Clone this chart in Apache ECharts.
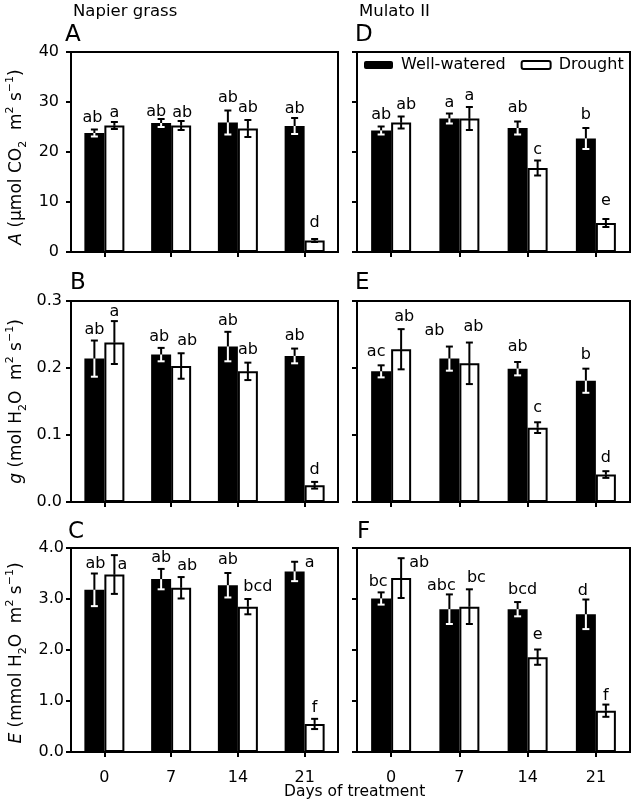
<!DOCTYPE html>
<html>
<head>
<meta charset="utf-8">
<script src="https://cdn.jsdelivr.net/npm/echarts@6/dist/echarts.min.js"></script>
<style>
html,body{margin:0;padding:0;background:#fff;}
#chart{width:633px;height:812px;}
</style>
</head>
<body>
<div id="chart"></div>
<script>
// ---------- DATA ----------
const days = ['0', '7', '14', '21'];
const treatments = ['Well-watered', 'Drought'];
const yLabelsA = ['0', '10', '20', '30', '40'];
const yLabelsG = ['0.0', '0.1', '0.2', '0.3'];
const yLabelsE = ['0.0', '1.0', '2.0', '3.0', '4.0'];

// Napier grass - A (µmol CO2 m-2 s-1)
const napierA_ww = [23.8, 25.8, 25.9, 25.2];
const napierA_wwErr = [0.7, 0.8, 2.4, 1.6];
const napierA_wwLet = ['ab', 'ab', 'ab', 'ab'];
const napierA_dr = [25.3, 25.3, 24.7, 2.3];
const napierA_drErr = [0.7, 0.9, 1.7, 0.3];
const napierA_drLet = ['a', 'ab', 'ab', 'd'];

// Napier grass - g (mol H2O m-2 s-1)
const napierG_ww = [0.214, 0.220, 0.232, 0.218];
const napierG_wwErr = [0.027, 0.010, 0.022, 0.011];
const napierG_wwLet = ['ab', 'ab', 'ab', 'ab'];
const napierG_dr = [0.238, 0.203, 0.195, 0.025];
const napierG_drErr = [0.032, 0.019, 0.013, 0.005];
const napierG_drLet = ['a', 'ab', 'ab', 'd'];

// Napier grass - E (mmol H2O m-2 s-1)
const napierE_ww = [3.18, 3.39, 3.27, 3.54];
const napierE_wwErr = [0.32, 0.20, 0.24, 0.19];
const napierE_wwLet = ['ab', 'ab', 'ab', 'a'];
const napierE_dr = [3.48, 3.22, 2.85, 0.55];
const napierE_drErr = [0.38, 0.21, 0.15, 0.10];
const napierE_drLet = ['a', 'ab', 'bcd', 'f'];

// Mulato II - A
const mulatoA_ww = [24.3, 26.7, 24.8, 22.7];
const mulatoA_wwErr = [0.8, 1.0, 1.3, 2.1];
const mulatoA_wwLet = ['ab', 'a', 'ab', 'b'];
const mulatoA_dr = [25.9, 26.7, 16.8, 5.8];
const mulatoA_drErr = [1.2, 2.3, 1.5, 0.8];
const mulatoA_drLet = ['ab', 'a', 'c', 'e'];

// Mulato II - g
const mulatoG_ww = [0.195, 0.214, 0.199, 0.181];
const mulatoG_wwErr = [0.009, 0.018, 0.010, 0.018];
const mulatoG_wwLet = ['ac', 'ab', 'ab', 'b'];
const mulatoG_dr = [0.228, 0.207, 0.111, 0.041];
const mulatoG_drErr = [0.030, 0.031, 0.008, 0.005];
const mulatoG_drLet = ['ab', 'ab', 'c', 'd'];

// Mulato II - E
const mulatoE_ww = [3.01, 2.80, 2.80, 2.70];
const mulatoE_wwErr = [0.12, 0.29, 0.14, 0.29];
const mulatoE_wwLet = ['bc', 'abc', 'bcd', 'd'];
const mulatoE_dr = [3.41, 2.85, 1.86, 0.81];
const mulatoE_drErr = [0.39, 0.34, 0.15, 0.12];
const mulatoE_drLet = ['ab', 'bc', 'e', 'f'];

// ---------- STYLE / LAYOUT (not data) ----------
const FONT = 'DejaVu Sans';
const BAR_W = 20;
const CAP = 3.5;
// label nudges [dx, dy] in px, per panel & treatment
const nudge = {
  A_ww: [[-2, 0], [-5, 5], [0, -1], [0, 3]],
  A_dr: [[0, 3], [1, 4], [0, 0], [0, -4]],
  B_ww: [[0, 1], [-2, 1], [0, 1], [0, -1]],
  B_dr: [[0, 3], [6, 0], [0, -1], [0, 0]],
  C_ww: [[1, 2], [0, 1], [0, -1], [15, 13]],
  C_dr: [[8, 22], [6, 1], [10, 0], [0, 1]],
  D_ww: [[0, 0], [0, 1], [0, -2], [0, -1]],
  D_dr: [[5, 0], [0, 1], [0, 1], [0, -6]],
  E_ww: [[-5, -1], [-15, -4], [0, -3], [0, -2]],
  E_dr: [[3, 0], [4, -4], [0, -2], [0, -1]],
  F_ww: [[-3, 1], [-8, 3], [5, 0], [-3, 3]],
  F_dr: [[18, 17], [7, 1], [0, -3], [0, 3]]
};

const gridsPos = [
  { left: 71, top: 52, width: 267, height: 200 },   // A
  { left: 71, top: 301, width: 267, height: 201 },  // B
  { left: 71, top: 548, width: 267, height: 204 },  // C
  { left: 357, top: 52, width: 273, height: 200 },  // D
  { left: 357, top: 301, width: 273, height: 201 }, // E
  { left: 357, top: 548, width: 273, height: 204 }  // F
];

const panels = [
  { key: 'A', ww: napierA_ww, wwErr: napierA_wwErr, wwLet: napierA_wwLet, dr: napierA_dr, drErr: napierA_drErr, drLet: napierA_drLet, max: 40, interval: 10, labels: yLabelsA, showY: true, showX: false, labelMargin: 12, namePad: [0, 10, 0, 0], name: '{i|A} {n|(µmol CO}{sub|2}{n|  m}{sup|2}{n| s}{sup|−1}{n|)}' },
  { key: 'B', ww: napierG_ww, wwErr: napierG_wwErr, wwLet: napierG_wwLet, dr: napierG_dr, drErr: napierG_drErr, drLet: napierG_drLet, max: 0.3, interval: 0.1, labels: yLabelsG, showY: true, showX: false, labelMargin: 9, namePad: [0, 0, 0, 0], name: '{i|g} {n|(mol H}{sub|2}{n|O  m}{sup|2}{n| s}{sup|−1}{n|)}' },
  { key: 'C', ww: napierE_ww, wwErr: napierE_wwErr, wwLet: napierE_wwLet, dr: napierE_dr, drErr: napierE_drErr, drLet: napierE_drLet, max: 4, interval: 1, labels: yLabelsE, showY: true, showX: true, labelMargin: 7, namePad: [0, 6, 0, 0], name: '{i|E} {n|(mmol H}{sub|2}{n|O  m}{sup|2}{n| s}{sup|−1}{n|)}' },
  { key: 'D', ww: mulatoA_ww, wwErr: mulatoA_wwErr, wwLet: mulatoA_wwLet, dr: mulatoA_dr, drErr: mulatoA_drErr, drLet: mulatoA_drLet, max: 40, interval: 10, labels: yLabelsA, showY: false, showX: false },
  { key: 'E', ww: mulatoG_ww, wwErr: mulatoG_wwErr, wwLet: mulatoG_wwLet, dr: mulatoG_dr, drErr: mulatoG_drErr, drLet: mulatoG_drLet, max: 0.3, interval: 0.1, labels: yLabelsG, showY: false, showX: false },
  { key: 'F', ww: mulatoE_ww, wwErr: mulatoE_wwErr, wwLet: mulatoE_wwLet, dr: mulatoE_dr, drErr: mulatoE_drErr, drLet: mulatoE_drLet, max: 4, interval: 1, labels: yLabelsE, showY: false, showX: true }
];

function errSeries(g, vals, errs, lets, nd, side) {
  return {
    type: 'custom', xAxisIndex: g, yAxisIndex: g, z: 5, silent: true,
    data: vals.map((v, i) => [i, v, errs[i]]),
    renderItem: function (params, api) {
      const i = api.value(0), v = api.value(1), e = api.value(2);
      const c = api.coord([i, v]);
      const x = c[0] + side * BAR_W / 2;
      const yv = c[1];
      const yTop = api.coord([i, v + e])[1];
      const yBot = api.coord([i, v - e])[1];
      const low = side < 0 ? '#fff' : '#000';
      const n = nd[params.dataIndex];
      return {
        type: 'group',
        children: [
          { type: 'line', shape: { x1: x, y1: yv, x2: x, y2: yTop }, style: { stroke: '#000', lineWidth: 2 } },
          { type: 'line', shape: { x1: x - CAP, y1: yTop, x2: x + CAP, y2: yTop }, style: { stroke: '#000', lineWidth: 2 } },
          { type: 'line', shape: { x1: x, y1: yv, x2: x, y2: yBot }, style: { stroke: low, lineWidth: 2 } },
          { type: 'line', shape: { x1: x - CAP, y1: yBot, x2: x + CAP, y2: yBot }, style: { stroke: low, lineWidth: 2 } },
          { type: 'text', style: { text: lets[params.dataIndex], x: x + n[0], y: yTop - 4 + n[1], fill: '#000', fontSize: 16, fontFamily: FONT, align: 'center', verticalAlign: 'bottom', textAlign: 'center', textVerticalAlign: 'bottom' } }
        ]
      };
    }
  };
}

const grid = [], xAxis = [], yAxis = [], series = [];
panels.forEach((p, g) => {
  grid.push(Object.assign({ show: true, borderColor: '#000', borderWidth: 2, backgroundColor: 'transparent', containLabel: false }, gridsPos[g]));
  xAxis.push({
    type: 'category', gridIndex: g, data: days,
    axisLine: { lineStyle: { color: '#000', width: 2 } },
    axisTick: { show: true, alignWithLabel: true, length: 5, lineStyle: { color: '#000', width: 2 } },
    axisLabel: { show: p.showX, color: '#000', fontSize: 16, fontFamily: FONT, margin: 18 }
  });
  const yax = {
    type: 'value', gridIndex: g, min: 0, max: p.max, interval: p.interval,
    splitLine: { show: false },
    axisLine: { show: true, lineStyle: { color: '#000', width: 2 } },
    axisTick: { show: true, length: 5, lineStyle: { color: '#000', width: 2 } },
    axisLabel: {
      show: p.showY, color: '#000', fontSize: 16, fontFamily: FONT, margin: p.labelMargin || 10,
      formatter: (val) => p.labels[Math.round(val / p.interval)]
    }
  };
  if (p.name) {
    Object.assign(yax, {
      name: p.name, nameLocation: 'middle', nameGap: 42,
      nameTextStyle: {
        color: '#000', fontFamily: FONT, fontSize: 17, padding: p.namePad,
        rich: {
          i: { fontStyle: 'italic', fontSize: 17, fontFamily: FONT, color: '#000', lineHeight: 24 },
          n: { fontSize: 17, fontFamily: FONT, color: '#000', lineHeight: 24 },
          sub: { fontSize: 11, fontFamily: FONT, color: '#000', verticalAlign: 'bottom', lineHeight: 24 },
          sup: { fontSize: 11, fontFamily: FONT, color: '#000', verticalAlign: 'top', lineHeight: 24 }
        }
      }
    });
  }
  yAxis.push(yax);
  series.push({ type: 'bar', name: treatments[0], xAxisIndex: g, yAxisIndex: g, data: p.ww, barWidth: BAR_W, barGap: '0%', itemStyle: { color: '#000' }, silent: true });
  series.push({ type: 'bar', name: treatments[1], xAxisIndex: g, yAxisIndex: g, data: p.dr, barWidth: BAR_W, barGap: '0%', itemStyle: { color: '#fff', borderColor: '#000', borderWidth: 2 }, silent: true });
  series.push(errSeries(g, p.ww, p.wwErr, p.wwLet, nudge[p.key + '_ww'], -1));
  series.push(errSeries(g, p.dr, p.drErr, p.drLet, nudge[p.key + '_dr'], 1));
});

const tStyle = (size) => ({ color: '#000', fontFamily: FONT, fontSize: size, fontWeight: 'normal' });
const option = {
  animation: false,
  backgroundColor: '#fff',
  title: [
    { text: 'Napier grass', left: 73, top: 3, padding: 0, textStyle: tStyle(16.5) },
    { text: 'Mulato II', left: 359, top: 3, padding: 0, textStyle: tStyle(16.5) },
    { text: 'A', left: 65, top: 24, padding: 0, textStyle: tStyle(23) },
    { text: 'B', left: 70, top: 272, padding: 0, textStyle: tStyle(23) },
    { text: 'C', left: 68, top: 521, padding: 0, textStyle: tStyle(23) },
    { text: 'D', left: 355, top: 24, padding: 0, textStyle: tStyle(23) },
    { text: 'E', left: 355, top: 272, padding: 0, textStyle: tStyle(23) },
    { text: 'F', left: 357, top: 521, padding: 0, textStyle: tStyle(23) },
    { text: 'Days of treatment', left: 284, top: 784, padding: 0, textStyle: tStyle(15.5) }
  ],
  legend: {
    data: treatments, left: 364, top: 57, padding: 0,
    itemWidth: 29, itemHeight: 8, itemGap: 15, selectedMode: false,
    textStyle: { color: '#000', fontFamily: FONT, fontSize: 16, padding: [0, 0, 0, 3] }
  },
  grid, xAxis, yAxis, series
};

const chart = echarts.init(document.getElementById('chart'), null, { renderer: 'canvas' });
chart.setOption(option);
</script>
</body>
</html>
